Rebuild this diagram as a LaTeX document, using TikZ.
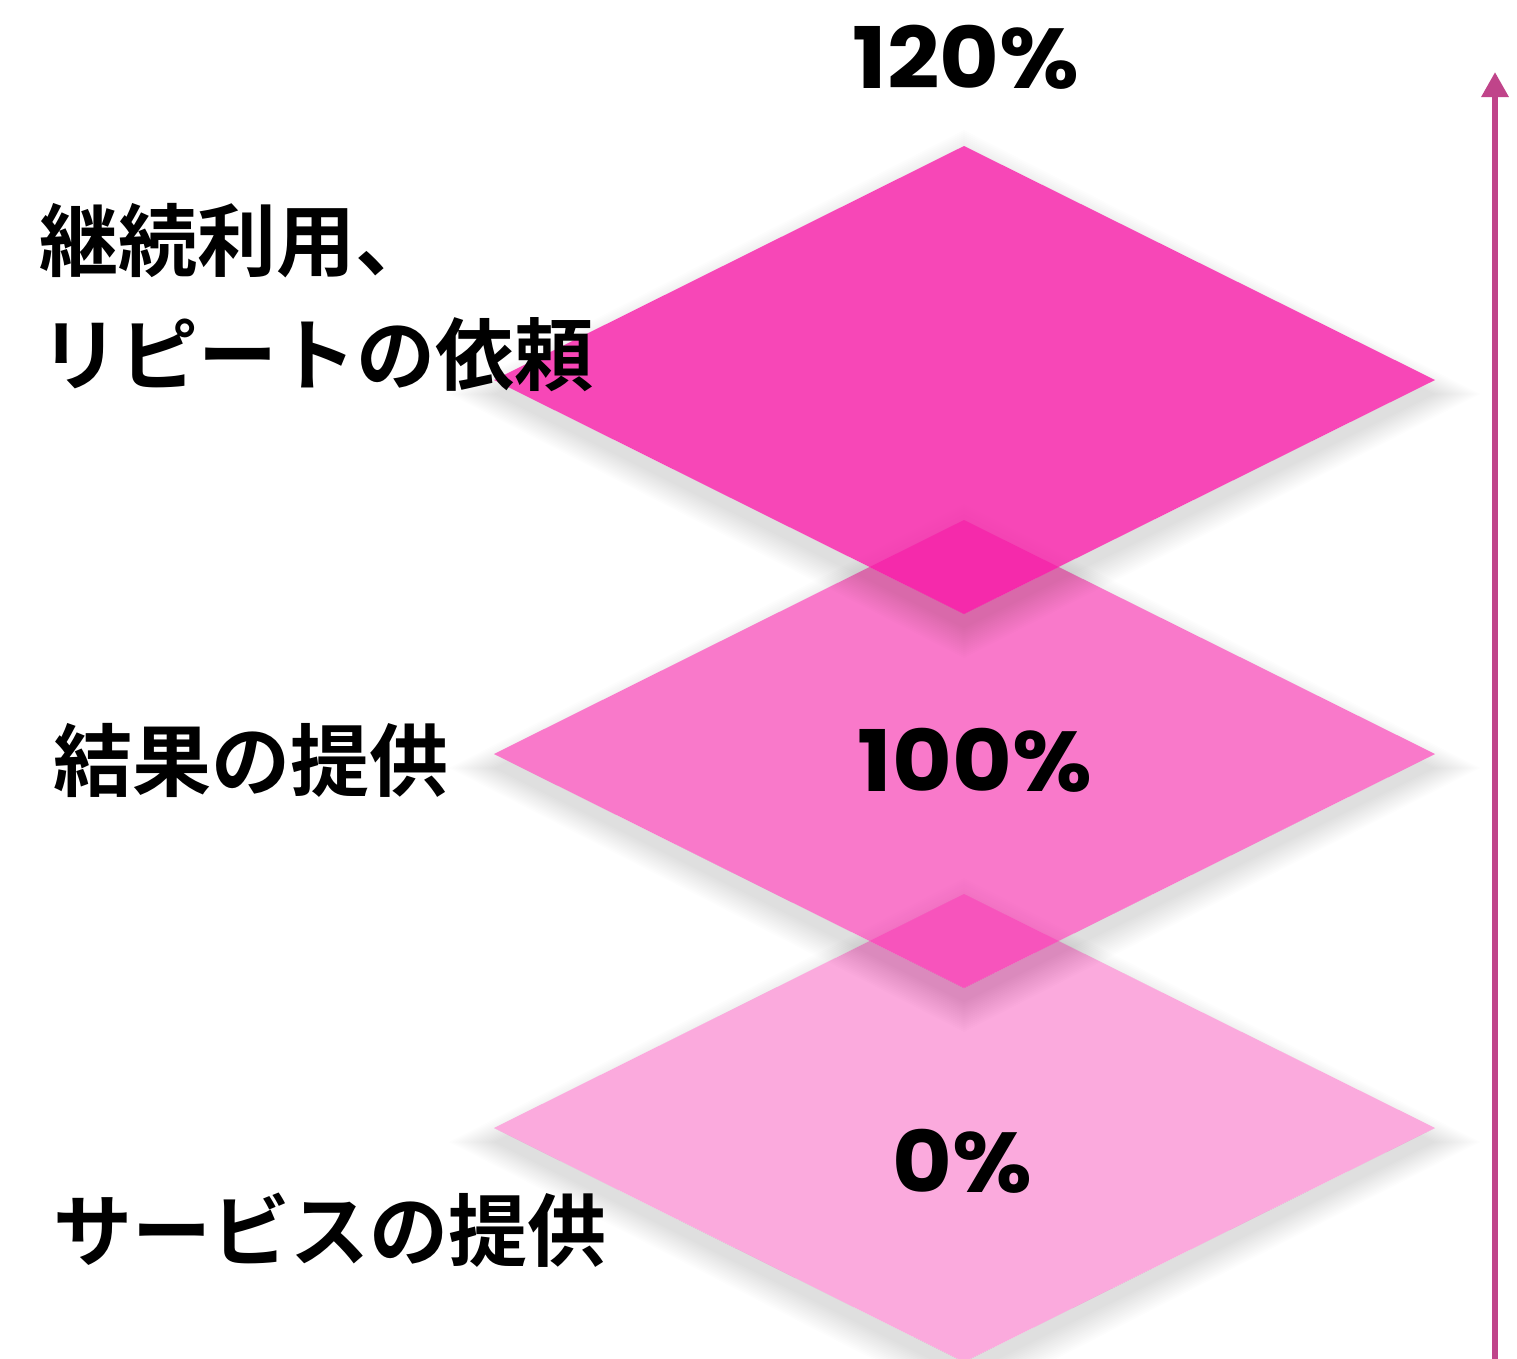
\documentclass[tikz,border=0pt]{standalone}
\usepackage{fontspec}
\usetikzlibrary{arrows.meta}
\newfontfamily\jpfont{Noto Sans CJK JP Bold}
\newfontfamily\numfont{Poppins Bold}[FakeStretch=1.08]
\definecolor{mag}{RGB}{245,20,163}
\definecolor{arrcol}{RGB}{192,68,138}
\newcommand\diapath[1]{(964,#1) -- (1435,#1+234) -- (964,#1+468) -- (494,#1+234) -- cycle}
\newcommand\diashadow[1]{%
  \begin{scope}[even odd rule]
    \clip (-20,-20) rectangle (1540,1380) \diapath{#1};
    \foreach \s in {0,...,15} {
      \pgfmathsetmacro\dd{2*\s}
      \pgfmathsetmacro\cc{#1+234+14}
      \fill[black,fill opacity=0.007] (964,\cc-234-\dd) -- (1435+1.5*\dd,\cc) -- (964,\cc+234+\dd) -- (494-1.5*\dd,\cc) -- cycle;
    }
  \end{scope}}
\tikzset{
  jplabel/.style={font=\jpfont\fontsize{79}{92}\selectfont, anchor=west, inner sep=0pt, text=black},
  numlabel/.style={font=\numfont\fontsize{85}{96}\selectfont, anchor=center, inner sep=0pt, text=black},
}
\begin{document}
\begin{tikzpicture}[x=1pt,y=-1pt]
\useasboundingbox (0,0) rectangle (1517,1358);
\fill[white] (0,0) rectangle (1517,1358);
% bottom diamond
\diashadow{894}
\fill[mag,fill opacity=0.36] \diapath{894};
% middle diamond
\diashadow{520}
\fill[mag,fill opacity=0.57] \diapath{520};
% top diamond
\diashadow{146}
\fill[mag,fill opacity=0.78] \diapath{146};
% arrow
\coordinate (abot) at (1495,1360);
\coordinate (atop) at (1495,72);
\draw[arrcol,line width=6pt,-{Triangle[width=26pt,length=25pt]}] (abot) -- (atop);
% numbers
\node[numlabel] (p120) at (966,57) {120\%};
\node[numlabel] (p100) at (975,760) {100\%};
\node[numlabel] (p0) at (962,1161) {0\%};
% labels
\node[jplabel] (l1) at (39,241) {継続利用、};
\node[jplabel] (l2) at (40,355) {リピートの依頼};
\node[jplabel] (l3) at (53,760) {結果の提供};
\node[jplabel] (l4) at (53,1230) {サービスの提供};
\end{tikzpicture}
\end{document}
